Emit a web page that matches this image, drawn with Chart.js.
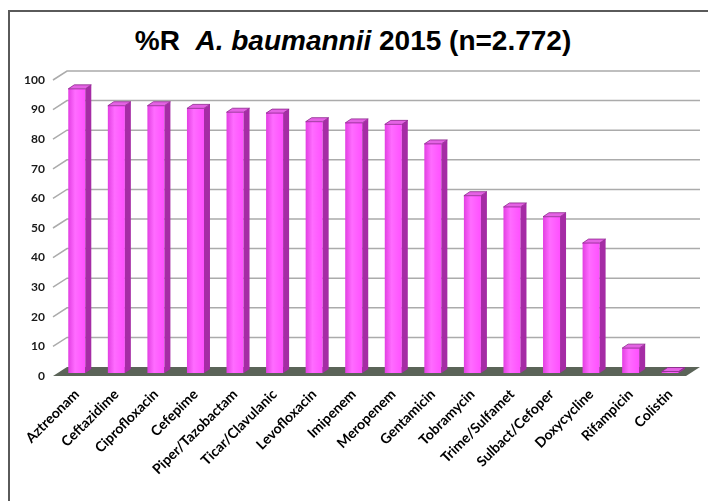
<!DOCTYPE html>
<html>
<head>
<meta charset="utf-8">
<script src="https://cdn.jsdelivr.net/npm/chart.js@4.4.1/dist/chart.umd.min.js"></script>
<style>
  html, body { margin: 0; padding: 0; width: 708px; height: 501px; overflow: hidden; background: #fff; }
  .frame { position: absolute; left: 8px; top: 10px; width: 800px; height: 600px; border: 2px solid #5a5a5a; }
  .title { position: absolute; left: 0; top: 25px; width: 706px; text-align: center; white-space: pre;
           font: bold 28px/32px "Liberation Sans", Arial, sans-serif; color: #000; }
  #chart { position: absolute; left: 0; top: 0; }
</style>
</head>
<body>
<div class="frame"></div>
<div class="title">%R  <i>A. baumannii</i> 2015 (n=2.772)</div>
<canvas id="chart" width="708" height="501"></canvas>
<script>
/*global Chart */
const categories = [
  'Aztreonam', 'Ceftazidime', 'Ciprofloxacin', 'Cefepime', 'Piper/Tazobactam',
  'Ticar/Clavulanic', 'Levofloxacin', 'Imipenem', 'Meropenem', 'Gentamicin',
  'Tobramycin', 'Trime/Sulfamet', 'Sulbact/Cefoper', 'Doxycycline', 'Rifampicin', 'Colistin'
];
const resistance = [96, 90.3, 90.3, 89.4, 88.1, 87.8, 84.9, 84.5, 84.0, 77.4, 59.9, 56.1, 52.8, 43.9, 8.4, 0.5];
const yMin = 0;
const yMax = 100;
const yStep = 10;

// fake 3d: offset of the back wall, of the bar front and depth of a bar
const _depth = { x: 14, y: 9 };
const _barShift = { x: 4, y: 3 };
const _barDepth = { x: 6, y: 4 };
const _barPercentage = 0.43;
const _colors = {
  frontDark: '#e23fe2',
  front: '#ff50ff',
  frontLight: '#ff6cff',
  side: '#a52ca5',
  top: '#e462e4',
  edge: '#8c248c',
  floor: '#5b6458',
  grid: '#ababab',
  tick: '#1a1a1a'
};

/**
 * Horizontal gradient for the front face of one bar
 */
function frontFill(context) {
  const chart = context.chart;
  const xScale = chart.scales.x;
  if (!xScale || context.dataIndex === undefined) return _colors.front;
  const cx = xScale.getPixelForValue(context.dataIndex);
  const half = xScale.width / categories.length * _barPercentage / 2;
  if (!isFinite(cx) || !isFinite(half) || half <= 0) return _colors.front;
  const g = chart.ctx.createLinearGradient(cx - half, 0, cx + half, 0);
  g.addColorStop(0, _colors.frontDark);
  g.addColorStop(0.4, _colors.frontLight);
  g.addColorStop(1, _colors.front);
  return g;
}

/**
 * Fill (and optionally stroke) a closed polygon
 */
function polygon(ctx, points, fill, stroke) {
  ctx.beginPath();
  points.forEach(([px, py], i) => (i ? ctx.lineTo(px, py) : ctx.moveTo(px, py)));
  ctx.closePath();
  ctx.fillStyle = fill;
  ctx.fill();
  if (stroke) {
    ctx.strokeStyle = stroke;
    ctx.lineWidth = 0.8;
    ctx.stroke();
  }
}

// floor, back wall grid, then side and top faces of the bars
const depthPlugin = {
  id: 'depth3d',
  beforeDatasetsDraw: (chart) => {
    const ctx = chart.ctx;
    const area = chart.chartArea;
    const yScale = chart.scales.y;
    ctx.save();
    polygon(ctx, [
      [area.left, area.bottom],
      [area.right, area.bottom],
      [area.right + _depth.x, area.bottom - _depth.y],
      [area.left + _depth.x, area.bottom - _depth.y]
    ], _colors.floor);
    ctx.strokeStyle = _colors.grid;
    ctx.lineWidth = 1.5;
    yScale.ticks.forEach((tick) => {
      const py = yScale.getPixelForValue(tick.value);
      if (tick.value === yMin) return;
      ctx.beginPath();
      ctx.moveTo(area.left, py);
      ctx.lineTo(area.left + _depth.x, py - _depth.y);
      ctx.lineTo(area.right + _depth.x, py - _depth.y);
      ctx.stroke();
    });
    ctx.restore();
    // bars sit a little behind the front edge of the floor
    ctx.save();
    ctx.translate(_barShift.x, -_barShift.y);
  },
  afterDatasetsDraw: (chart) => {
    const ctx = chart.ctx;
    ctx.restore();
    ctx.save();
    chart.getDatasetMeta(0).data.forEach((bar) => {
      const p = bar.getProps(['x', 'y', 'width', 'base'], true);
      const l = p.x - p.width / 2 + _barShift.x;
      const r = p.x + p.width / 2 + _barShift.x;
      const t = p.y - _barShift.y;
      const b = p.base - _barShift.y;
      polygon(ctx, [[r, t], [r + _barDepth.x, t - _barDepth.y], [r + _barDepth.x, b - _barDepth.y], [r, b]], _colors.side);
      polygon(ctx, [[l, t], [l + _barDepth.x, t - _barDepth.y], [r + _barDepth.x, t - _barDepth.y], [r, t]], _colors.top, _colors.edge);
    });
    ctx.restore();
  }
};

new Chart(document.getElementById('chart'), {
  type: 'bar',
  data: {
    labels: categories,
    datasets: [{
      data: resistance,
      backgroundColor: frontFill,
      borderWidth: 0,
      categoryPercentage: 1.0,
      barPercentage: _barPercentage
    }]
  },
  options: {
    responsive: false,
    animation: false,
    devicePixelRatio: 1,
    layout: {
      padding: { top: 80, right: 22, left: 0, bottom: 0 }
    },
    plugins: {
      legend: { display: false },
      title: { display: false },
      tooltip: { enabled: false }
    },
    scales: {
      x: {
        grid: { display: false },
        border: { display: false },
        ticks: {
          color: '#000',
          font: { family: 'Lato', weight: 'bold', size: 14 },
          minRotation: 45,
          maxRotation: 45,
          autoSkip: false,
          labelOffset: 4,
          padding: 2
        },
        afterFit: (scale) => { scale.height = 125; }
      },
      y: {
        min: yMin,
        max: yMax,
        grid: { display: false },
        border: { display: false },
        ticks: {
          stepSize: yStep,
          color: _colors.tick,
          font: { family: 'Lato', weight: 'bold', size: 12 },
          padding: 0
        },
        afterFit: (scale) => { scale.width = 53; }
      }
    }
  },
  plugins: [depthPlugin]
});
</script>
</body>
</html>
